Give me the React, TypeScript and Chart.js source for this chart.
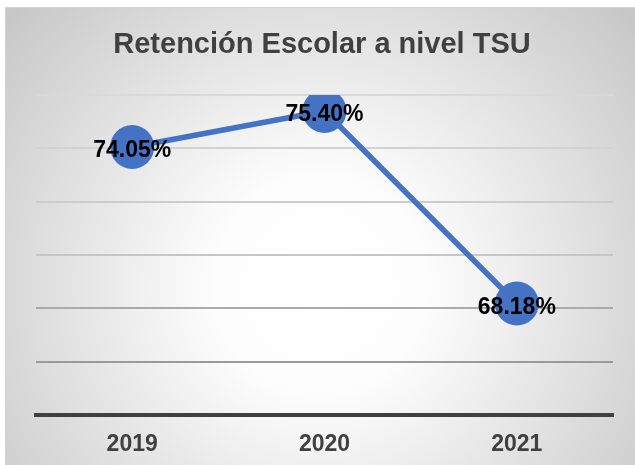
import React, { useEffect, useRef } from "react";
import { Chart, registerables } from "chart.js";

Chart.register(...registerables);

const chartTitle = "Retención Escolar a nivel TSU";
const categories = ["2019", "2020", "2021"];
const retention = [74.05, 75.4, 68.18];
const dataLabels = ["74.05%", "75.40%", "68.18%"];
const yMin = 64;
const yMax = 76;
const yStep = 2;
const gridColors: Record<number, string> = {
  64: "rgba(0,0,0,0)",
  66: "#9a9a9a",
  68: "#aaaaaa",
  70: "#c6c6c6",
  72: "#cccccc",
  74: "#d2d2d2",
  76: "#d9d9d9",
};

const FONT = "'Liberation Sans', Arial, sans-serif";

const backgroundPlugin = {
  id: "bgFrame",
  beforeDraw(chart: any) {
    const { ctx, width, height } = chart;
    ctx.save();
    ctx.fillStyle = "#ffffff";
    ctx.fillRect(0, 0, width, height);
    const g = ctx.createRadialGradient(320, 285, 0, 320, 285, 430);
    g.addColorStop(0, "#ffffff");
    g.addColorStop(0.25, "#fdfdfd");
    g.addColorStop(1, "#c4c4c4");
    ctx.fillStyle = g;
    ctx.fillRect(5, 7, width - 5, height - 7);
    ctx.strokeStyle = "#d4d4d4";
    ctx.lineWidth = 1;
    ctx.strokeRect(5.5, 7.5, width - 5, height - 7);
    ctx.font = `bold 29px ${FONT}`;
    ctx.fillStyle = "#404040";
    ctx.textAlign = "center";
    ctx.textBaseline = "middle";
    ctx.fillText(chartTitle, 322, 45);
    ctx.restore();
  },
};

const labelPlugin = {
  id: "pointLabels",
  afterDatasetsDraw(chart: any) {
    const { ctx } = chart;
    const meta = chart.getDatasetMeta(0);
    ctx.save();
    ctx.font = `bold 23px ${FONT}`;
    ctx.fillStyle = "#000000";
    ctx.textAlign = "center";
    ctx.textBaseline = "alphabetic";
    meta.data.forEach((pt: any, i: number) => {
      ctx.fillText(dataLabels[i], pt.x, pt.y + 10);
    });
    ctx.restore();
  },
};

export default function App() {
  const ref = useRef<HTMLCanvasElement | null>(null);
  useEffect(() => {
    document.body.style.margin = "0";
    const canvas = ref.current;
    if (!canvas) return;
    const chart = new Chart(canvas, {
      type: "line",
      data: {
        labels: categories,
        datasets: [
          {
            data: retention,
            borderColor: "#4472C4",
            backgroundColor: "#4472C4",
            borderWidth: 5.5,
            pointRadius: 22,
            pointHoverRadius: 22,
            pointBorderWidth: 0,
            pointBackgroundColor: "#4472C4",
            tension: 0,
            fill: false,
          },
        ],
      },
      options: {
        animation: false,
        responsive: false,
        devicePixelRatio: 1,
        events: [],
        layout: { padding: { left: 0, right: 20, top: 95, bottom: 0 } },
        plugins: {
          legend: { display: false },
          tooltip: { enabled: false },
          title: { display: false },
        },
        scales: {
          x: {
            offset: true,
            afterFit(scale: any) {
              scale.height = 50;
            },
            grid: { display: false, drawTicks: false },
            border: { display: true, color: "#404040", width: 4 },
            ticks: {
              color: "#404040",
              padding: 16,
              font: { family: FONT, size: 23, weight: "bold" },
            },
          },
          y: {
            min: yMin,
            max: yMax,
            afterFit(scale: any) {
              scale.width = 36;
            },
            ticks: { display: false, stepSize: yStep },
            border: { display: false },
            grid: {
              drawTicks: false,
              lineWidth: 2,
              color: (c: any) => gridColors[c.tick?.value] ?? "#cccccc",
            },
          },
        },
      },
      plugins: [backgroundPlugin, labelPlugin],
    });
    return () => chart.destroy();
  }, []);
  return <canvas ref={ref} width={635} height={465} style={{ display: "block" }} />;
}
